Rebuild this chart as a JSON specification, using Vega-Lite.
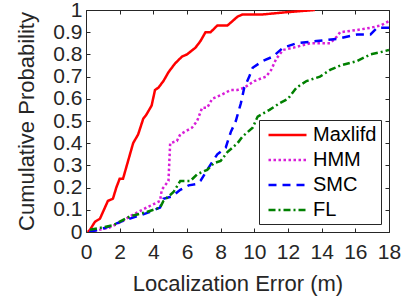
{
  "$schema": "https://vega.github.io/schema/vega-lite/v6.json",
  "width": 303,
  "height": 222,
  "autosize": "none",
  "padding": {"left": 86, "top": 10, "right": 21, "bottom": 69},
  "background": "white",
  "config": {
    "font": "Liberation Sans",
    "view": {"stroke": "#262626", "strokeWidth": 1},
    "axis": {
      "domain": false,
      "tickColor": "#262626",
      "tickSize": -4,
      "tickWidth": 1,
      "gridColor": "#e6e6e6",
      "gridWidth": 1,
      "labelFont": "Liberation Sans",
      "labelFontSize": 21,
      "labelColor": "#262626",
      "labelOverlap": false,
      "labelBound": false,
      "labelFlush": false,
      "titleFont": "Liberation Sans",
      "titleFontSize": 22,
      "titleFontWeight": "normal",
      "titleColor": "#262626"
    },
    "legend": {
      "title": null, "orient": "none", "legendX": 173, "legendY": 110, "strokeColor": "#262626", "fillColor": "white",
      "padding": 4, "labelFontSize": 20, "labelFont": "Liberation Sans", "labelColor": "#000000", "symbolType": "M-2,0H2",
      "symbolSize": 361, "symbolStrokeWidth": 2.5, "symbolOffset": 13.5, "rowPadding": 4, "labelOffset": 14.5
    }
  },
  "data": {
    "values": [
      {"m": "Maxlifd", "x": 0.1, "y": 0},
      {"m": "Maxlifd", "x": 0.24, "y": 0.01},
      {"m": "Maxlifd", "x": 0.53, "y": 0.046},
      {"m": "Maxlifd", "x": 0.83, "y": 0.06},
      {"m": "Maxlifd", "x": 1.3, "y": 0.14},
      {"m": "Maxlifd", "x": 1.6, "y": 0.15},
      {"m": "Maxlifd", "x": 1.8, "y": 0.2},
      {"m": "Maxlifd", "x": 2.0, "y": 0.24},
      {"m": "Maxlifd", "x": 2.2, "y": 0.24},
      {"m": "Maxlifd", "x": 2.5, "y": 0.32},
      {"m": "Maxlifd", "x": 2.8, "y": 0.4},
      {"m": "Maxlifd", "x": 3.1, "y": 0.44},
      {"m": "Maxlifd", "x": 3.4, "y": 0.51},
      {"m": "Maxlifd", "x": 3.6, "y": 0.53},
      {"m": "Maxlifd", "x": 3.9, "y": 0.57},
      {"m": "Maxlifd", "x": 4.1, "y": 0.64},
      {"m": "Maxlifd", "x": 4.3, "y": 0.65},
      {"m": "Maxlifd", "x": 4.6, "y": 0.68},
      {"m": "Maxlifd", "x": 4.9, "y": 0.72},
      {"m": "Maxlifd", "x": 5.3, "y": 0.76},
      {"m": "Maxlifd", "x": 5.7, "y": 0.79},
      {"m": "Maxlifd", "x": 6.0, "y": 0.8},
      {"m": "Maxlifd", "x": 6.5, "y": 0.83},
      {"m": "Maxlifd", "x": 6.8, "y": 0.86},
      {"m": "Maxlifd", "x": 7.1, "y": 0.9},
      {"m": "Maxlifd", "x": 7.4, "y": 0.9},
      {"m": "Maxlifd", "x": 7.8, "y": 0.93},
      {"m": "Maxlifd", "x": 8.4, "y": 0.93},
      {"m": "Maxlifd", "x": 8.7, "y": 0.95},
      {"m": "Maxlifd", "x": 9.0, "y": 0.97},
      {"m": "Maxlifd", "x": 9.3, "y": 0.98},
      {"m": "Maxlifd", "x": 10.5, "y": 0.98},
      {"m": "Maxlifd", "x": 11.9, "y": 0.99},
      {"m": "Maxlifd", "x": 13.6, "y": 1.0},
      {"m": "HMM", "x": 0.2, "y": 0},
      {"m": "HMM", "x": 1.4, "y": 0.02},
      {"m": "HMM", "x": 2.2, "y": 0.05},
      {"m": "HMM", "x": 2.6, "y": 0.07},
      {"m": "HMM", "x": 3.6, "y": 0.11},
      {"m": "HMM", "x": 4.4, "y": 0.14},
      {"m": "HMM", "x": 4.5, "y": 0.19},
      {"m": "HMM", "x": 4.9, "y": 0.23},
      {"m": "HMM", "x": 5.0, "y": 0.4},
      {"m": "HMM", "x": 5.4, "y": 0.41},
      {"m": "HMM", "x": 5.6, "y": 0.44},
      {"m": "HMM", "x": 6.3, "y": 0.47},
      {"m": "HMM", "x": 6.6, "y": 0.5},
      {"m": "HMM", "x": 6.9, "y": 0.56},
      {"m": "HMM", "x": 7.2, "y": 0.56},
      {"m": "HMM", "x": 7.5, "y": 0.6},
      {"m": "HMM", "x": 8.1, "y": 0.62},
      {"m": "HMM", "x": 8.6, "y": 0.64},
      {"m": "HMM", "x": 9.0, "y": 0.64},
      {"m": "HMM", "x": 9.4, "y": 0.65},
      {"m": "HMM", "x": 10.0, "y": 0.68},
      {"m": "HMM", "x": 10.7, "y": 0.7},
      {"m": "HMM", "x": 11.0, "y": 0.73},
      {"m": "HMM", "x": 11.3, "y": 0.78},
      {"m": "HMM", "x": 11.7, "y": 0.82},
      {"m": "HMM", "x": 12.3, "y": 0.83},
      {"m": "HMM", "x": 13.3, "y": 0.85},
      {"m": "HMM", "x": 14.5, "y": 0.85},
      {"m": "HMM", "x": 14.9, "y": 0.88},
      {"m": "HMM", "x": 15.1, "y": 0.9},
      {"m": "HMM", "x": 16.1, "y": 0.91},
      {"m": "HMM", "x": 16.9, "y": 0.92},
      {"m": "HMM", "x": 17.5, "y": 0.93},
      {"m": "HMM", "x": 18, "y": 0.95},
      {"m": "SMC", "x": 0.2, "y": 0},
      {"m": "SMC", "x": 1.2, "y": 0.02},
      {"m": "SMC", "x": 2.2, "y": 0.05},
      {"m": "SMC", "x": 3.6, "y": 0.085},
      {"m": "SMC", "x": 4.4, "y": 0.11},
      {"m": "SMC", "x": 4.6, "y": 0.15},
      {"m": "SMC", "x": 5.1, "y": 0.16},
      {"m": "SMC", "x": 5.6, "y": 0.19},
      {"m": "SMC", "x": 6.1, "y": 0.21},
      {"m": "SMC", "x": 6.5, "y": 0.215},
      {"m": "SMC", "x": 6.8, "y": 0.23},
      {"m": "SMC", "x": 7.2, "y": 0.28},
      {"m": "SMC", "x": 7.8, "y": 0.35},
      {"m": "SMC", "x": 8.3, "y": 0.38},
      {"m": "SMC", "x": 8.6, "y": 0.45},
      {"m": "SMC", "x": 8.9, "y": 0.5},
      {"m": "SMC", "x": 9.2, "y": 0.58},
      {"m": "SMC", "x": 9.4, "y": 0.65},
      {"m": "SMC", "x": 9.7, "y": 0.7},
      {"m": "SMC", "x": 9.9, "y": 0.74},
      {"m": "SMC", "x": 10.5, "y": 0.77},
      {"m": "SMC", "x": 11.1, "y": 0.79},
      {"m": "SMC", "x": 11.7, "y": 0.83},
      {"m": "SMC", "x": 12.5, "y": 0.85},
      {"m": "SMC", "x": 13.7, "y": 0.86},
      {"m": "SMC", "x": 14.9, "y": 0.87},
      {"m": "SMC", "x": 16.1, "y": 0.89},
      {"m": "SMC", "x": 16.9, "y": 0.89},
      {"m": "SMC", "x": 17.3, "y": 0.92},
      {"m": "SMC", "x": 18, "y": 0.92},
      {"m": "FL", "x": 0.24, "y": 0.01},
      {"m": "FL", "x": 1.6, "y": 0.03},
      {"m": "FL", "x": 2.6, "y": 0.07},
      {"m": "FL", "x": 3.6, "y": 0.09},
      {"m": "FL", "x": 4.4, "y": 0.11},
      {"m": "FL", "x": 4.6, "y": 0.14},
      {"m": "FL", "x": 5.2, "y": 0.18},
      {"m": "FL", "x": 5.6, "y": 0.23},
      {"m": "FL", "x": 6.2, "y": 0.23},
      {"m": "FL", "x": 6.6, "y": 0.26},
      {"m": "FL", "x": 7.2, "y": 0.28},
      {"m": "FL", "x": 7.6, "y": 0.31},
      {"m": "FL", "x": 8.0, "y": 0.32},
      {"m": "FL", "x": 8.4, "y": 0.36},
      {"m": "FL", "x": 9.0, "y": 0.4},
      {"m": "FL", "x": 9.3, "y": 0.43},
      {"m": "FL", "x": 9.9, "y": 0.47},
      {"m": "FL", "x": 10.2, "y": 0.52},
      {"m": "FL", "x": 10.9, "y": 0.55},
      {"m": "FL", "x": 11.5, "y": 0.58},
      {"m": "FL", "x": 12.0, "y": 0.6},
      {"m": "FL", "x": 12.5, "y": 0.65},
      {"m": "FL", "x": 13.1, "y": 0.68},
      {"m": "FL", "x": 13.9, "y": 0.7},
      {"m": "FL", "x": 14.5, "y": 0.73},
      {"m": "FL", "x": 15.1, "y": 0.75},
      {"m": "FL", "x": 16.1, "y": 0.77},
      {"m": "FL", "x": 16.9, "y": 0.8},
      {"m": "FL", "x": 17.5, "y": 0.81},
      {"m": "FL", "x": 18, "y": 0.82}
    ]
  },
  "layer": [
    {
      "mark": {"type": "point", "opacity": 0},
      "encoding": {
        "x": {"field": "x", "type": "quantitative", "scale": {"domain": [0, 18], "nice": false},
          "axis": {"orient": "top", "values": [0,2,4,6,8,10,12,14,16,18], "labels": false, "grid": false, "title": null}},
        "y": {"field": "y", "type": "quantitative", "scale": {"domain": [0, 1], "nice": false},
          "axis": {"orient": "right", "values": [0,0.1,0.2,0.3,0.4,0.5,0.6,0.7,0.8,0.9,1], "labels": false, "grid": false, "title": null}}
      }
    },
    {
      "mark": {"type": "line", "strokeWidth": 2.5, "clip": true},
      "encoding": {
        "x": {"field": "x", "type": "quantitative", "scale": {"domain": [0, 18], "nice": false},
          "axis": {"orient": "bottom", "values": [0,2,4,6,8,10,12,14,16,18], "title": "Localization Error (m)",
            "labelPadding": 13, "titleBaseline": "alphabetic", "titleX": 151.5, "titleY": 58}},
        "y": {"field": "y", "type": "quantitative", "scale": {"domain": [0, 1], "nice": false},
          "axis": {"orient": "left", "values": [0,0.1,0.2,0.3,0.4,0.5,0.6,0.7,0.8,0.9,1], "format": "~g", "title": "Cumulative Probability",
            "labelPadding": 8, "titleBaseline": "alphabetic", "titleAngle": -90, "titleX": -53, "titleY": 111}},
        "color": {"field": "m", "type": "nominal",
          "scale": {"domain": ["Maxlifd", "HMM", "SMC", "FL"], "range": ["#ff0000", "#d81ed8", "#0000ff", "#008000"]}},
        "strokeDash": {"field": "m", "type": "nominal",
          "scale": {"domain": ["Maxlifd", "HMM", "SMC", "FL"], "range": [[1, 0], [2.5, 2.5], [8, 6], [7, 3, 2, 3]]}}
      }
    }
  ],
  "resolve": {"axis": {"x": "independent", "y": "independent"}}
}
